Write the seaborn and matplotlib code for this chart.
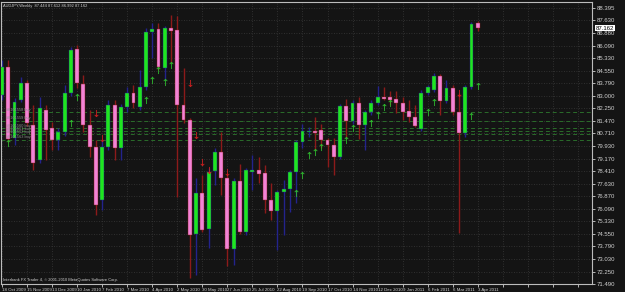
import numpy as np
import pandas as pd
import matplotlib
matplotlib.use("Agg")
import matplotlib.pyplot as plt
import matplotlib.transforms as mtransforms
import seaborn as sns

# ---------------- data ----------------
date_labels = ["18 Oct 2009", "15 Nov 2009", "13 Dec 2009", "10 Jan 2010", "7 Feb 2010",
               "7 Mar 2010", "4 Apr 2010", "2 May 2010", "30 May 2010", "27 Jun 2010",
               "25 Jul 2010", "22 Aug 2010", "19 Sep 2010", "17 Oct 2010", "14 Nov 2010",
               "12 Dec 2010", "9 Jan 2011", "6 Feb 2011", "6 Mar 2011", "3 Apr 2011"]

opens = [83.07, 84.78, 80.43, 82.76, 83.80, 81.23, 79.09, 82.15, 81.04, 80.31,
         80.80, 83.19, 85.88, 83.74, 81.23, 79.88, 76.64, 79.88, 82.45, 79.82,
         82.33, 83.19, 82.33, 83.56, 86.93, 87.11, 84.72, 87.17, 87.05, 82.45,
         81.54, 74.55, 77.06, 74.86, 78.41, 79.58, 77.98, 73.63, 77.80, 74.68,
         78.35, 78.47, 78.29, 76.64, 75.96, 77.13, 77.31, 78.35, 80.19, 80.80,
         80.86, 80.92, 80.31, 80.00, 79.27, 82.39, 81.47, 82.58, 81.23, 82.02,
         82.58, 82.94, 82.94, 82.82, 82.58, 82.09, 81.72, 80.98, 83.19, 83.37,
         84.23, 82.70, 83.50, 82.02, 80.74, 83.56, 87.444]
highs = [85.21, 85.21, 82.88, 84.17, 83.99, 82.45, 82.94, 82.45, 81.41, 81.04,
         83.68, 86.01, 86.13, 84.29, 82.15, 80.31, 80.31, 82.76, 82.76, 82.52,
         83.56, 83.68, 84.60, 87.17, 87.48, 87.48, 87.29, 87.97, 87.90, 84.72,
         81.66, 77.98, 78.17, 78.60, 79.82, 80.80, 78.17, 77.98, 78.84, 78.60,
         79.39, 79.27, 78.78, 77.68, 77.25, 77.86, 78.47, 80.31, 81.29, 81.11,
         81.72, 81.29, 80.43, 80.43, 82.52, 82.82, 82.76, 82.94, 82.15, 82.76,
         83.62, 83.56, 83.31, 83.31, 82.94, 82.76, 82.45, 83.37, 83.68, 84.41,
         84.35, 83.99, 83.68, 83.19, 83.68, 87.54, 87.612]
lows = [82.76, 80.19, 80.00, 82.64, 81.17, 78.47, 78.90, 79.09, 79.70, 79.70,
        80.55, 83.00, 83.50, 80.80, 79.27, 75.72, 76.02, 79.70, 79.09, 79.09,
        82.02, 82.27, 82.15, 83.37, 85.33, 84.60, 83.99, 85.03, 76.82, 81.35,
        71.86, 72.04, 74.68, 73.69, 77.55, 76.94, 72.59, 72.65, 74.55, 74.49,
        77.25, 77.68, 75.84, 75.41, 73.57, 74.49, 75.90, 76.45, 79.82, 80.49,
        79.70, 79.82, 78.66, 78.17, 79.15, 80.43, 81.29, 80.37, 79.70, 81.84,
        82.45, 82.76, 82.45, 81.96, 81.54, 81.41, 81.11, 80.86, 83.07, 83.25,
        81.84, 82.58, 81.84, 74.61, 80.49, 83.43, 86.992]
closes = [84.78, 80.37, 82.64, 83.80, 81.35, 78.90, 82.27, 80.92, 80.31, 80.80,
          83.19, 85.82, 83.80, 81.23, 79.88, 76.33, 79.88, 82.45, 79.82, 82.33,
          83.19, 82.58, 83.56, 86.93, 87.11, 84.78, 87.17, 86.99, 82.45, 81.54,
          74.49, 77.06, 74.80, 78.35, 79.58, 77.98, 73.63, 77.80, 74.68, 78.47,
          78.47, 78.23, 76.64, 75.96, 77.13, 77.31, 78.35, 80.19, 80.86, 80.86,
          80.74, 80.31, 80.00, 79.27, 82.39, 81.47, 82.58, 81.23, 82.02, 82.58,
          82.94, 82.85, 82.76, 82.58, 82.02, 81.72, 81.17, 83.19, 83.56, 84.23,
          82.70, 83.50, 82.02, 80.74, 83.56, 87.42, 87.162]

up_arrow_bar = [1, 11, 12, 23, 24, 25, 26, 27, 47, 48, 49, 50, 51, 55, 56, 59, 60, 61, 62, 68, 69, 75, 76]
up_arrow_price = [80.13, 81.35, 82.94, 82.76, 83.99, 84.60, 83.86, 84.90, 77.06, 78.17, 79.39, 79.58,
                  79.88, 80.31, 81.04, 81.35, 81.84, 82.33, 82.58, 82.02, 82.64, 81.78, 83.62]
down_arrow_bar = [15, 16, 30, 31, 32, 33, 36, 73]
down_arrow_price = [81.96, 80.43, 83.80, 80.62, 78.96, 78.47, 78.35, 83.19]

level_prices = [82.01, 81.49, 81.03, 80.86, 80.66, 80.31]
level_labels = ["#8101558 buy", "#8101559 buy", "#8101560 buy", "#8101561 buy", "#8101562 buy", "#8101563 buy"]

price_ticks = [88.395, 87.630, 86.880, 86.090, 85.330, 84.550, 83.790, 83.000, 82.250, 81.470,
               80.710, 79.930, 79.170, 78.410, 77.630, 76.870, 76.090, 75.330, 74.550, 73.790,
               73.030, 72.250, 71.490]
last_price = 87.162
title_text = "AUDJPY,Weekly  87.444 87.612 86.992 87.162"
copyright_text = "Interbank FX Trader 4, \u00a9 2001-2010 MetaQuotes Software Corp."

# ---------------- styling ----------------
BG = "#141414"
FG = "#d0d0d0"
BULL = "#1fe61f"
BEAR = "#f283d6"
BULL_WICK = "#23238c"
BEAR_WICK = "#8c1a1a"
GRID = "#3a3a3a"
LEVEL = "#2a6c2a"
FONT = ["Liberation Sans", "DejaVu Sans"]
plt.rcParams["font.family"] = FONT

df = pd.DataFrame({"open": opens, "high": highs, "low": lows, "close": closes})
df["bar"] = np.arange(len(df))
df["bull"] = df["close"] >= df["open"]

fig = plt.figure(figsize=(6.25, 2.92), dpi=100, facecolor=BG)
ax = fig.add_axes([1 / 625, 8 / 292, 591 / 625, 282 / 292], facecolor=BG)
ax.set_xlim(-0.16, 94.25)
ax.set_ylim(71.49, 88.76)

# grid
xt = list(range(0, 93, 4))
ax.set_xticks(xt)
ax.set_xticklabels([date_labels[k] if k < len(date_labels) else "" for k in range(len(xt))])
ax.set_yticks(price_ticks)
ax.set_yticklabels([f"{v:.3f}" for v in price_ticks])
ax.grid(True, color=GRID, linestyle=(0, (1, 2)), linewidth=0.6)
ax.set_axisbelow(True)

# levels
for p in level_prices:
    ax.axhline(p, color=LEVEL, linestyle=(0, (4, 3)), linewidth=0.7, zorder=1)
for p, lab in zip(level_prices, level_labels):
    ax.text(0.6, p + 0.03, lab, fontsize=2.8, color="#8c8c8c", va="bottom", ha="left", zorder=6)

# wicks
for bull, col in [(True, BULL_WICK), (False, BEAR_WICK)]:
    d = df[df["bull"] == bull]
    ax.vlines(d["bar"], d["low"], d["high"], color=col, linewidth=1.0, zorder=2)

# bodies
body_w = 0.62
for bull, col in [(True, BULL), (False, BEAR)]:
    d = df[df["bull"] == bull]
    bottom = np.minimum(d["open"], d["close"])
    height = np.maximum(np.abs(d["close"] - d["open"]), 0.04)
    ax.bar(d["bar"], height, bottom=bottom, width=body_w, color=col,
           edgecolor=BULL_WICK if bull else BEAR_WICK, linewidth=0.3, zorder=3)

# arrows via seaborn
arr_up = pd.DataFrame({"bar": up_arrow_bar, "price": up_arrow_price})
arr_dn = pd.DataFrame({"bar": down_arrow_bar, "price": down_arrow_price})
sns.scatterplot(data=arr_up, x="bar", y="price", marker=r"$\uparrow$", s=26, color="#2fbf2f",
                linewidth=0, ax=ax, zorder=5, legend=False)
sns.scatterplot(data=arr_dn, x="bar", y="price", marker=r"$\downarrow$", s=26, color="#d42020",
                linewidth=0, ax=ax, zorder=5, legend=False)
ax.set_xlabel("")
ax.set_ylabel("")

# axes look
for s in ax.spines.values():
    s.set_color("#bcbcbc")
    s.set_linewidth(0.8)
ax.yaxis.tick_right()
ax.tick_params(axis="y", colors=FG, labelsize=4.3, length=2, width=0.6, pad=1.5)
ax.tick_params(axis="x", colors=FG, labelsize=3.15, length=2, width=0.6, pad=0.8)
for lab in ax.get_xticklabels():
    lab.set_horizontalalignment("left")

# current price box
trans = mtransforms.blended_transform_factory(ax.transAxes, ax.transData)
ax.text(1.006, last_price, f"{last_price:.3f}", transform=trans, fontsize=4.3, color="black",
        va="center", ha="left", zorder=10,
        bbox=dict(boxstyle="square,pad=0.12", fc="white", ec="white", lw=0))

ax.text(0.004, 0.992, title_text, transform=ax.transAxes, fontsize=2.9, color=FG, va="top", ha="left")
ax.text(0.003, 0.008, copyright_text, transform=ax.transAxes, fontsize=2.9, color=FG, va="bottom", ha="left")

fig.savefig("out.png", dpi=100, facecolor=BG)
